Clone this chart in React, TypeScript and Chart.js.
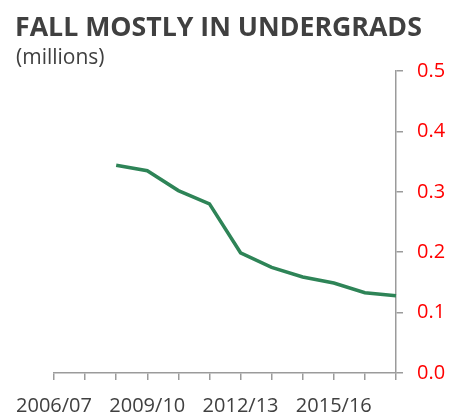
import React, { useEffect, useRef } from "react";
import { Chart, registerables } from "chart.js";

Chart.register(...registerables);

const TITLE = "FALL MOSTLY IN UNDERGRADS";
const SUBTITLE = "(millions)";
const years = [
  "2006/07", "2007/08", "2008/09", "2009/10", "2010/11", "2011/12",
  "2012/13", "2013/14", "2014/15", "2015/16", "2016/17", "2017/18",
];
const undergrads = [null, null, 0.344, 0.335, 0.302, 0.28, 0.199, 0.175, 0.159, 0.149, 0.133, 0.128];
const yTicks = [0, 0.1, 0.2, 0.3, 0.4, 0.5];

const FONT = "'Open Sans', 'DejaVu Sans', sans-serif";
const AXIS_GRAY = "#9b9b9b";
const TEXT = "#404040";

export default function App() {
  const ref = useRef<HTMLCanvasElement | null>(null);

  useEffect(() => {
    if (!ref.current) return;
    const chart = new Chart(ref.current, {
      type: "line",
      data: {
        labels: years,
        datasets: [
          {
            data: undergrads,
            borderColor: "#2E8457",
            borderWidth: 3.5,
            pointRadius: 0,
            tension: 0,
            spanGaps: false,
          },
        ],
      },
      options: {
        animation: false,
        responsive: false,
        maintainAspectRatio: false,
        layout: { padding: { top: 71, left: 54, right: 0, bottom: 0 } },
        plugins: { legend: { display: false }, tooltip: { enabled: false } },
        scales: {
          x: {
            type: "category",
            offset: false,
            afterFit: (axis: any) => { axis.height = 39; },
            grid: {
              display: true,
              drawOnChartArea: false,
              drawTicks: true,
              tickLength: 7,
              color: AXIS_GRAY,
              lineWidth: 1.5,
            },
            border: { display: true, color: AXIS_GRAY, width: 1.5 },
            ticks: {
              autoSkip: false,
              maxRotation: 0,
              padding: 14,
              color: TEXT,
              font: { family: FONT, size: 20 },
              callback: (_v: any, i: number) => (i % 3 === 0 ? years[i] : ""),
            },
          },
          y: {
            position: "right",
            min: 0,
            max: 0.5,
            afterFit: (axis: any) => { axis.width = 66; },
            afterBuildTicks: (axis: any) => {
              axis.ticks = yTicks.map((v) => ({ value: v }));
            },
            grid: {
              display: true,
              drawOnChartArea: false,
              drawTicks: true,
              tickLength: 7,
              color: AXIS_GRAY,
              lineWidth: 1.5,
            },
            border: { display: true, color: AXIS_GRAY, width: 1.5 },
            ticks: {
              padding: 14,
              color: "#ff0000",
              font: { family: FONT, size: 20 },
              callback: (v: any) => Number(v).toFixed(1),
            },
          },
        },
      },
    });
    return () => chart.destroy();
  }, []);

  return (
    <div style={{ position: "fixed", left: 0, top: 0, width: 462, height: 412, background: "#fff" }}>
      <canvas ref={ref} width={462} height={412} style={{ position: "absolute", left: 0, top: 0 }} />
      <div
        style={{
          position: "absolute",
          left: 15,
          top: 12,
          fontFamily: FONT,
          fontWeight: 700,
          fontSize: 26.7,
          lineHeight: "27px",
          color: TEXT,
          whiteSpace: "nowrap",
        }}
      >
        {TITLE}
      </div>
      <div
        style={{
          position: "absolute",
          left: 16,
          top: 46,
          fontFamily: FONT,
          fontSize: 21,
          lineHeight: "21px",
          color: TEXT,
          whiteSpace: "nowrap",
        }}
      >
        {SUBTITLE}
      </div>
    </div>
  );
}
